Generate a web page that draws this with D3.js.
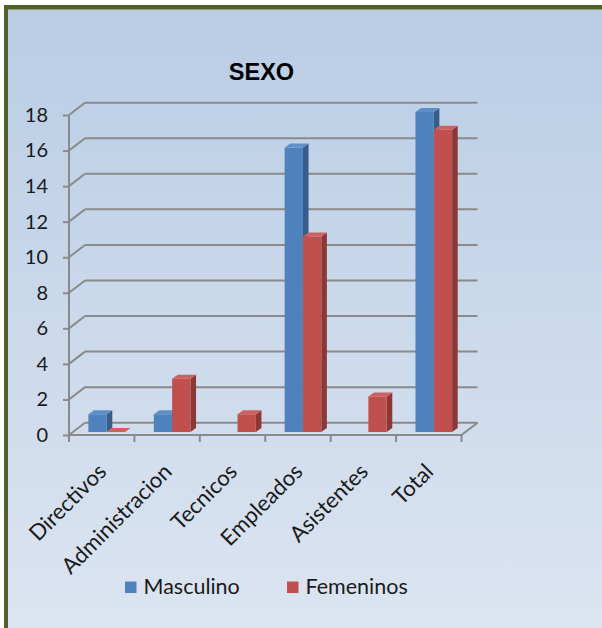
<!DOCTYPE html>
<html>
<head>
<meta charset="utf-8">
<script src="https://cdn.jsdelivr.net/npm/d3@7"></script>
<style>
  html, body { margin: 0; padding: 0; background: #ffffff; }
  svg { display: block; }
</style>
</head>
<body>
<svg id="chart" width="602" height="628"></svg>
<script>
// Personal por área y sexo
const categories = ["Directivos", "Administracion", "Tecnicos", "Empleados", "Asistentes", "Total"];
const seriesNames = ["Masculino", "Femeninos"];
const masculino = [1, 1, null, 16, null, 18];
const femeninos = [0, 3, 1, 11, 2, 17];
const yTicks = [0, 2, 4, 6, 8, 10, 12, 14, 16, 18];
const titleText = "SEXO";

const seriesValues = [masculino, femeninos];
const colors = [
  { front: "#4f81bd", side: "#385d8a", top: "#5f8fc9" },
  { front: "#c0504d", side: "#8c3836", top: "#cc625f" }
];

const svg = d3.select("#chart");
const defs = svg.append("defs");

// Chart area background
const bg = defs.append("linearGradient").attr("id", "bgGrad")
  .attr("x1", 0).attr("y1", 0).attr("x2", 0).attr("y2", 1);
bg.append("stop").attr("offset", "0%").attr("stop-color", "#b9cde5");
bg.append("stop").attr("offset", "100%").attr("stop-color", "#dee6f2");

svg.append("rect").attr("x", 6).attr("y", 7).attr("width", 640).attr("height", 660)
  .attr("fill", "url(#bgGrad)").attr("stroke", "#4f6228").attr("stroke-width", 4);
svg.append("line").attr("x1", 8).attr("x2", 602).attr("y1", 9.5).attr("y2", 9.5)
  .attr("stroke", "#8e9a78").attr("stroke-width", 1);

// Plot geometry
const left = 69, right = 461.5, bottom = 435, topY = 115;
const depth = { dx: 16, dy: -12.3 };      // floor / wall depth
const barOff = { dx: 5, dy: -3 };          // bar front face offset into the depth
const barDepth = { dx: 5.6, dy: -4 };      // bar thickness

const y = d3.scaleLinear().domain([0, 18]).range([bottom, topY]);
const x = d3.scaleBand().domain(categories).range([left, right])
  .paddingInner(0.44).paddingOuter(0.22);
const xs = d3.scaleBand().domain(seriesNames).range([0, x.bandwidth()]);

const gridColor = "#8a8a8a";
const labelFont = "Lato, 'Open Sans', sans-serif";
const grid = svg.append("g");

// back wall gridlines and side-wall diagonals
yTicks.forEach(v => {
  const yy = y(v);
  grid.append("line")
    .attr("x1", left + depth.dx).attr("x2", right + depth.dx)
    .attr("y1", yy + depth.dy).attr("y2", yy + depth.dy)
    .attr("stroke", gridColor).attr("stroke-width", 2);
  grid.append("line")
    .attr("x1", left).attr("y1", yy)
    .attr("x2", left + depth.dx).attr("y2", yy + depth.dy)
    .attr("stroke", gridColor).attr("stroke-width", 2);
});

// floor right edge
grid.append("line")
  .attr("x1", right).attr("y1", bottom)
  .attr("x2", right + depth.dx).attr("y2", bottom + depth.dy)
  .attr("stroke", gridColor).attr("stroke-width", 2);

// value axis
const yAxis = d3.axisLeft(y).tickValues(yTicks).tickSize(6).tickPadding(15);
const yAxisG = svg.append("g").attr("transform", `translate(${left},0)`).call(yAxis);
yAxisG.select(".domain").attr("stroke", gridColor).attr("stroke-width", 2)
  .attr("d", `M0,${topY}V${bottom}`);
yAxisG.selectAll(".tick line").attr("stroke", gridColor).attr("stroke-width", 2);
yAxisG.selectAll(".tick text")
  .attr("fill", "#1a1a1a").style("font-family", labelFont)
  .style("font-size", "20px");

// category axis
const xAxisG = svg.append("g");
xAxisG.append("line").attr("x1", left - 1).attr("x2", right + 1)
  .attr("y1", bottom).attr("y2", bottom)
  .attr("stroke", gridColor).attr("stroke-width", 2);
d3.range(categories.length + 1).forEach(i => {
  const xx = left + i * x.step();
  xAxisG.append("line").attr("x1", xx).attr("x2", xx)
    .attr("y1", bottom).attr("y2", bottom + 7)
    .attr("stroke", gridColor).attr("stroke-width", 2);
});
xAxisG.selectAll("text.cat").data(categories).join("text")
  .attr("class", "cat")
  .attr("transform", d => `translate(${x(d) + x.bandwidth() / 2 + 6},${bottom + 38}) rotate(-45)`)
  .attr("text-anchor", "end")
  .attr("fill", "#1a1a1a")
  .style("font-family", labelFont)
  .style("font-size", "22px")
  .text(d => d);

// 3D columns
const bars = svg.append("g");
categories.forEach((cat, i) => {
  seriesNames.forEach((s, j) => {
    const v = seriesValues[j][i];
    if (v === null || v === undefined) return;
    const x0 = x(cat) + xs(s) + barOff.dx;
    const x1 = x0 + xs.bandwidth();
    const yb = y(0) + barOff.dy;
    const yt = y(v) + barOff.dy;
    const c = colors[j];
    const g = bars.append("g");
    // side face
    g.append("path")
      .attr("d", `M${x1},${yt}L${x1 + barDepth.dx},${yt + barDepth.dy}L${x1 + barDepth.dx},${yb + barDepth.dy}L${x1},${yb}Z`)
      .attr("fill", c.side);
    // front face
    g.append("rect").attr("x", x0).attr("y", yt)
      .attr("width", x1 - x0).attr("height", Math.max(0, yb - yt))
      .attr("fill", c.front);
    // top face
    g.append("path")
      .attr("d", `M${x0},${yt}L${x0 + barDepth.dx},${yt + barDepth.dy}L${x1 + barDepth.dx},${yt + barDepth.dy}L${x1},${yt}Z`)
      .attr("fill", c.top);
  });
});

// title
svg.append("text").attr("x", 261.5).attr("y", 80).attr("text-anchor", "middle")
  .style("font-family", "'Liberation Sans', Arial, sans-serif")
  .style("font-weight", "bold").style("font-size", "23.5px")
  .attr("fill", "#000").text(titleText);

// legend
const legendItems = [
  { name: seriesNames[0], color: colors[0].front, x: 125 },
  { name: seriesNames[1], color: colors[1].front, x: 287 }
];
const lg = svg.append("g");
legendItems.forEach(it => {
  lg.append("rect").attr("x", it.x).attr("y", 581.5).attr("width", 11.5).attr("height", 11.5)
    .attr("fill", it.color);
  lg.append("text").attr("x", it.x + 18.5).attr("y", 594)
    .attr("fill", "#1a1a1a")
    .style("font-family", labelFont)
    .style("font-size", "21.5px")
    .text(it.name);
});
</script>
</body>
</html>
